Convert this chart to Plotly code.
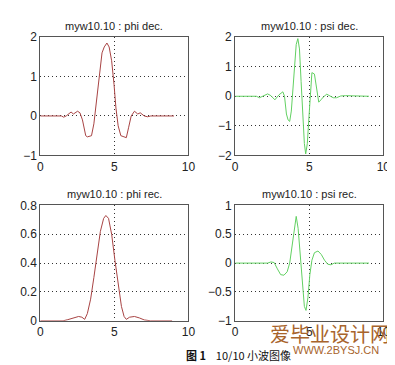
import plotly.graph_objects as go

# ---- data ----
phi_dec_x = [0, 1.43, 1.58, 1.75, 2.08, 2.24, 2.52, 2.68, 2.85, 3.07, 3.18, 3.46, 3.62, 3.84, 4.01, 4.17, 4.32, 4.5, 4.65, 4.82, 4.98, 5.11, 5.26, 5.44, 5.59, 5.81, 5.96, 6.14, 6.36, 6.58, 6.75, 7.02, 7.24, 7.46, 9.03]
phi_dec_y = [0, 0, -0.03, 0.0, 0.1, 0.05, 0.12, 0.08, -0.1, -0.5, -0.53, -0.5, -0.2, 0.5, 1.2, 1.6, 1.75, 1.85, 1.75, 1.4, 0.8, 0.2, -0.25, -0.5, -0.52, -0.55, -0.3, 0.0, 0.12, 0.05, 0.08, 0.0, -0.02, 0.0, 0]

psi_dec_x = [0, 1.43, 1.64, 1.97, 2.19, 2.41, 2.68, 2.96, 3.22, 3.33, 3.46, 3.57, 3.68, 3.79, 3.9, 4.01, 4.12, 4.23, 4.34, 4.45, 4.56, 4.67, 4.76, 4.87, 4.98, 5.09, 5.18, 5.35, 5.48, 5.64, 5.79, 5.96, 6.18, 6.4, 6.62, 6.84, 7.13, 7.46, 9.03]
psi_dec_y = [0, 0, -0.05, 0.03, 0.08, 0.02, -0.12, 0.05, 0.15, 0.0, -0.6, -0.8, -0.85, -0.5, 0.3, 1.3, 1.75, 1.95, 1.6, 0.5, -0.6, -1.6, -1.95, -1.6, -0.7, 0.3, 0.8, 0.75, 0.3, -0.2, -0.12, -0.02, 0.07, 0.02, -0.05, -0.05, 0.01, 0.02, 0]

phi_rec_x = [0, 1.54, 1.86, 2.19, 2.59, 2.81, 3.0, 3.18, 3.4, 3.62, 3.84, 4.06, 4.28, 4.43, 4.61, 4.82, 5.04, 5.26, 5.48, 5.66, 5.81, 6.03, 6.36, 6.69, 7.02, 7.46, 8.9]
phi_rec_y = [0, 0, 0.008, 0.02, 0.03, 0.025, 0.01, 0.05, 0.15, 0.3, 0.47, 0.62, 0.71, 0.73, 0.71, 0.6, 0.42, 0.24, 0.1, 0.03, 0.01, 0.025, 0.03, 0.02, 0.006, 0.0, 0]

psi_rec_x = [0, 2.19, 2.41, 2.63, 2.85, 3.07, 3.29, 3.51, 3.68, 3.84, 3.99, 4.12, 4.25, 4.39, 4.54, 4.67, 4.78, 4.91, 5.04, 5.18, 5.35, 5.59, 5.81, 6.03, 6.25, 6.47, 6.69, 6.91, 9.03]
psi_rec_y = [0, 0, 0.02, 0.01, -0.1, -0.2, -0.21, -0.15, 0.0, 0.3, 0.65, 0.81, 0.6, 0.1, -0.4, -0.75, -0.82, -0.6, -0.2, 0.05, 0.18, 0.21, 0.15, 0.05, -0.02, -0.03, 0.0, 0.0, 0]

titles = ["myw10.10 : phi dec.", "myw10.10 : psi dec.", "myw10.10 : phi rec.", "myw10.10 : psi rec."]
x_ticks = [0, 5, 10]
y_ticks = [[-1, 0, 1, 2], [-2, -1, 0, 1, 2], [0, 0.2, 0.4, 0.6, 0.8], [-1, -0.5, 0, 0.5, 1]]
y_ranges = [[-1, 2], [-2, 2], [0, 0.8], [-1, 1]]

RED = "#a84444"
GREEN = "#62d062"

W, H = 395, 365
def dx(a, b):
    return [a / W, b / W]
def dy(top, bot):
    return [(H - bot) / H, (H - top) / H]

domains = [
    (dx(30, 182), dy(23, 146)),
    (dx(230, 382), dy(23, 146)),
    (dx(30, 182), dy(198, 318)),
    (dx(230, 382), dy(198, 318)),
]

series = [(phi_dec_x, phi_dec_y, RED), (psi_dec_x, psi_dec_y, GREEN),
          (phi_rec_x, phi_rec_y, RED), (psi_rec_x, psi_rec_y, GREEN)]

fig = go.Figure()
layout = dict(width=W, height=H, margin=dict(l=0, r=0, t=0, b=0),
              paper_bgcolor="white", plot_bgcolor="white", showlegend=False,
              font=dict(family="Liberation Sans, Arial, sans-serif", color="#222"))
annotations = []
for i, ((xs, ys, col), (xd, yd)) in enumerate(zip(series, domains)):
    n = "" if i == 0 else str(i + 1)
    fig.add_trace(go.Scatter(x=xs, y=ys, mode="lines", line=dict(color=col, width=1),
                             xaxis="x" + n, yaxis="y" + n, hoverinfo="skip"))
    common = dict(showline=True, mirror=True, linecolor="#555", linewidth=1,
                  showgrid=True, gridcolor="#333", griddash="1px,3px", gridwidth=1,
                  ticks="", zeroline=False, tickfont=dict(size=12, color="#222"), fixedrange=True)
    layout["xaxis" + n] = dict(domain=xd, range=[0, 10], tickvals=x_ticks,
                               anchor="y" + n, **common)
    layout["yaxis" + n] = dict(domain=yd, range=y_ranges[i], tickvals=y_ticks[i],
                               anchor="x" + n, **common)
    annotations.append(dict(text=titles[i], x=(xd[0] + xd[1]) / 2, y=yd[1],
                            xref="paper", yref="paper", xanchor="center", yanchor="bottom",
                            yshift=3, showarrow=False, font=dict(size=11, color="#222")))

annotations.append(dict(text="<b>图 1</b>&nbsp;&nbsp;&nbsp;&nbsp;10/10 小波图像", x=178 / W, y=1 - 354 / H,
                        xref="paper", yref="paper", xanchor="left", yanchor="middle",
                        showarrow=False, font=dict(size=11, color="#111", family="Noto Sans CJK SC")))
annotations.append(dict(text="爱毕业设计网", x=327 / W, y=1 - 331 / H,
                        xref="paper", yref="paper", xanchor="center", yanchor="middle",
                        showarrow=False, font=dict(size=20, color="#a8642c", family="Noto Sans CJK SC")))
annotations.append(dict(text="WWW.2BYSJ.CN", x=333 / W, y=1 - 348 / H,
                        xref="paper", yref="paper", xanchor="center", yanchor="middle",
                        showarrow=False, font=dict(size=11, color="#a8642c")))
layout["annotations"] = annotations
fig.update_layout(**layout)
fig.write_html("out.html")
